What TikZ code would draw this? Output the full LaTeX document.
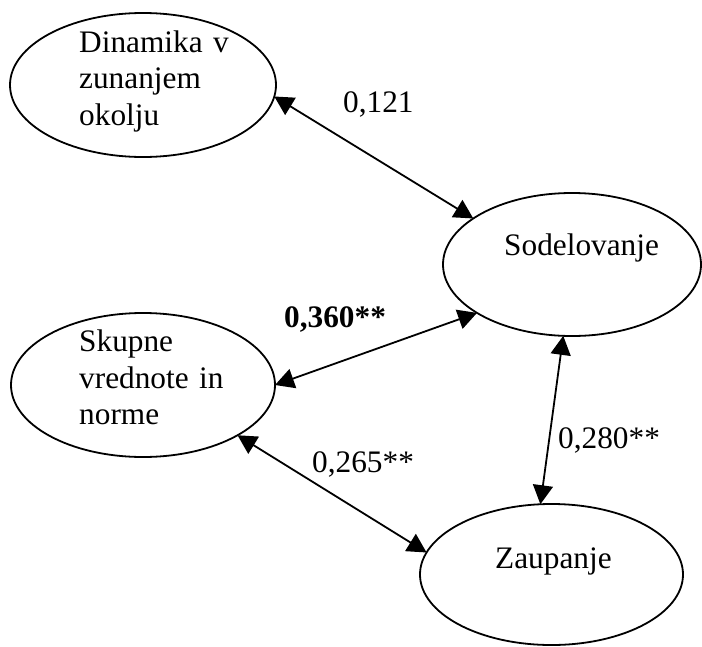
\documentclass[tikz,border=0pt]{standalone}
\usepackage{fontspec}
\setmainfont{Liberation Serif}
\usetikzlibrary{arrows.meta,shapes.geometric}
\begin{document}
\begin{tikzpicture}[x=1pt,y=-1pt,
  construct/.style={ellipse,draw,line width=1.8pt,inner sep=0pt,outer sep=0pt},
  caption/.style={anchor=base west,inner sep=0pt,text width=220pt,align=left,
    font=\fontsize{31.3}{36.6}\selectfont},
  coef/.style={anchor=base west,inner sep=0pt,font=\fontsize{31.3}{36.6}\selectfont},
  link/.style={line width=1.8pt,{Triangle[length=19pt,width=20pt]}-{Triangle[length=19pt,width=20pt]}}]
  \useasboundingbox (0,0) rectangle (702,646);

  % constructs
  \node[construct,minimum width=266pt,minimum height=144pt] (din) at (143,85) {};
  \node[construct,minimum width=258pt,minimum height=143pt] (sod) at (572,264.5) {};
  \node[construct,minimum width=264pt,minimum height=144pt] (sku) at (143,385) {};
  \node[construct,minimum width=263pt,minimum height=141pt] (zau) at (551.5,574.5) {};

  % construct names
  \node[caption] (tdin) at (79,52.3) {Dinamika v\\zunanjem\\okolju};
  \node[caption] (tsod) at (504,255) {Sodelovanje};
  \node[caption] (tsku) at (79,351.5) {Skupne\\vrednote in\\norme};
  \node[caption] (tzau) at (495,568) {Zaupanje};

  % correlations
  \draw[link] (din.-5.5) -- (sod.155.2);
  \draw[link] (sku.0) -- (sod.-153.9);
  \draw[link] (sku.-28.9) -- (zau.170.8);
  \draw[link] (sod.263) -- (zau.99.9);

  \node[coef] (c1) at (343,112) {0,121};
  \node[coef,font=\fontsize{31.3}{36.6}\selectfont\bfseries] (c2) at (284,327) {0,360**};
  \node[coef] (c3) at (312,472) {0,265**};
  \node[coef] (c4) at (558,448) {0,280**};
\end{tikzpicture}
\end{document}
